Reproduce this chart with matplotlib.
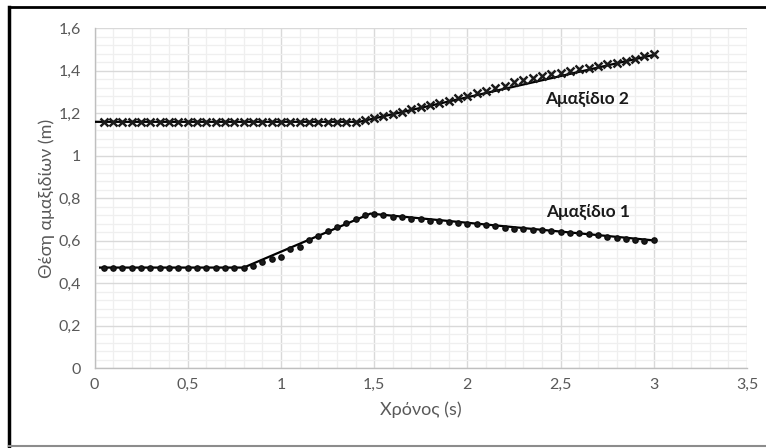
import numpy as np
import matplotlib.pyplot as plt
from matplotlib.ticker import MultipleLocator, FuncFormatter
from matplotlib.lines import Line2D

plt.rcParams['font.family'] = ['Lato', 'Open Sans', 'DejaVu Sans']

# Χρόνος (s), δείγματα κάθε 0,05 s
time = np.round(np.arange(1, 61) * 0.05, 2)

# Αμαξίδιο 1 - μετρήσεις θέσης (m)
cart1 = [0.474] * 16 + [
    0.483, 0.499, 0.514, 0.524, 0.563, 0.571, 0.606, 0.621, 0.646, 0.665,
    0.684, 0.703, 0.721, 0.726, 0.720, 0.712, 0.712, 0.703, 0.703, 0.695,
    0.695, 0.690, 0.685, 0.681, 0.677, 0.673, 0.670, 0.662, 0.657, 0.657,
    0.653, 0.649, 0.645, 0.640, 0.637, 0.637, 0.632, 0.627, 0.618, 0.615,
    0.610, 0.606, 0.601, 0.602]

# Αμαξίδιο 2 - μετρήσεις θέσης (m)
cart2 = [1.161] * 28 + [
    1.169, 1.178, 1.188, 1.197, 1.208, 1.219, 1.228, 1.239, 1.250, 1.260,
    1.272, 1.283, 1.296, 1.307, 1.317, 1.330, 1.345, 1.357, 1.366, 1.375,
    1.385, 1.391, 1.399, 1.407, 1.415, 1.423, 1.430, 1.438, 1.446, 1.457,
    1.468, 1.481]

# ευθείες προσαρμογής (τμηματικά γραμμικές)
fit1_x = [0.03, 0.80, 1.48, 3.00]
fit1_y = [0.474, 0.474, 0.728, 0.602]
fit2_x = [0.00, 1.42, 3.00]
fit2_y = [1.160, 1.160, 1.475]

fig = plt.figure(figsize=(7.66, 4.48), dpi=100)
ax = fig.add_axes([0.1234, 0.1779, 0.8518, 0.7589])

ax.plot(fit1_x, fit1_y, color='black', lw=1.6, zorder=3)
ax.plot(fit2_x, fit2_y, color='black', lw=1.6, zorder=3)
ax.plot(time, cart1, 'o', color='#1a1a1a', mec='#0d0d0d', ms=3.8, zorder=4)
ax.plot(time, cart2, 'x', color='#1a1a1a', ms=5.5, mew=1.8, zorder=4)

ax.set_xlim(0, 3.5)
ax.set_ylim(0, 1.6)
ax.xaxis.set_major_locator(MultipleLocator(0.5))
ax.xaxis.set_minor_locator(MultipleLocator(0.1))
ax.yaxis.set_major_locator(MultipleLocator(0.2))
ax.yaxis.set_minor_locator(MultipleLocator(0.04))

fmt = FuncFormatter(lambda v, p: ('%g' % round(v, 2)).replace('.', ','))
ax.xaxis.set_major_formatter(fmt)
ax.yaxis.set_major_formatter(fmt)

ax.grid(which='major', color='#d9d9d9', lw=1.0, zorder=0)
ax.grid(which='minor', color='#efefef', lw=0.9, zorder=0)
ax.set_axisbelow(True)

for s in ['top', 'right']:
    ax.spines[s].set_visible(False)
for s in ['left', 'bottom']:
    ax.spines[s].set_color('#bfbfbf')
    ax.spines[s].set_linewidth(1.0)

ax.tick_params(which='both', length=0, labelsize=11.5, labelcolor='#595959')
ax.tick_params(axis='x', pad=7)
ax.tick_params(axis='y', pad=10)

ax.set_xlabel('Χρόνος (s)', fontsize=13, color='#595959', labelpad=7)
ax.set_ylabel('Θέση αμαξιδίων (m)', fontsize=13, color='#595959', labelpad=2)

ax.text(2.64, 1.27, 'Αμαξίδιο 2', fontsize=12.5, fontweight='bold',
        color='#1a1a1a', ha='center', va='center')
ax.text(2.65, 0.735, 'Αμαξίδιο 1', fontsize=12.5, fontweight='bold',
        color='#1a1a1a', ha='center', va='center')

# πλαίσιο γραφήματος
fig.add_artist(Line2D([0.0115, 0.0115], [0.003, 0.985], color='black', lw=2.5))
fig.add_artist(Line2D([0.0115, 1.0], [0.985, 0.985], color='black', lw=2))
fig.add_artist(Line2D([0.0115, 1.0], [0.004, 0.004], color='#8c8c8c', lw=1.5))

fig.savefig('out.png', dpi=100)
